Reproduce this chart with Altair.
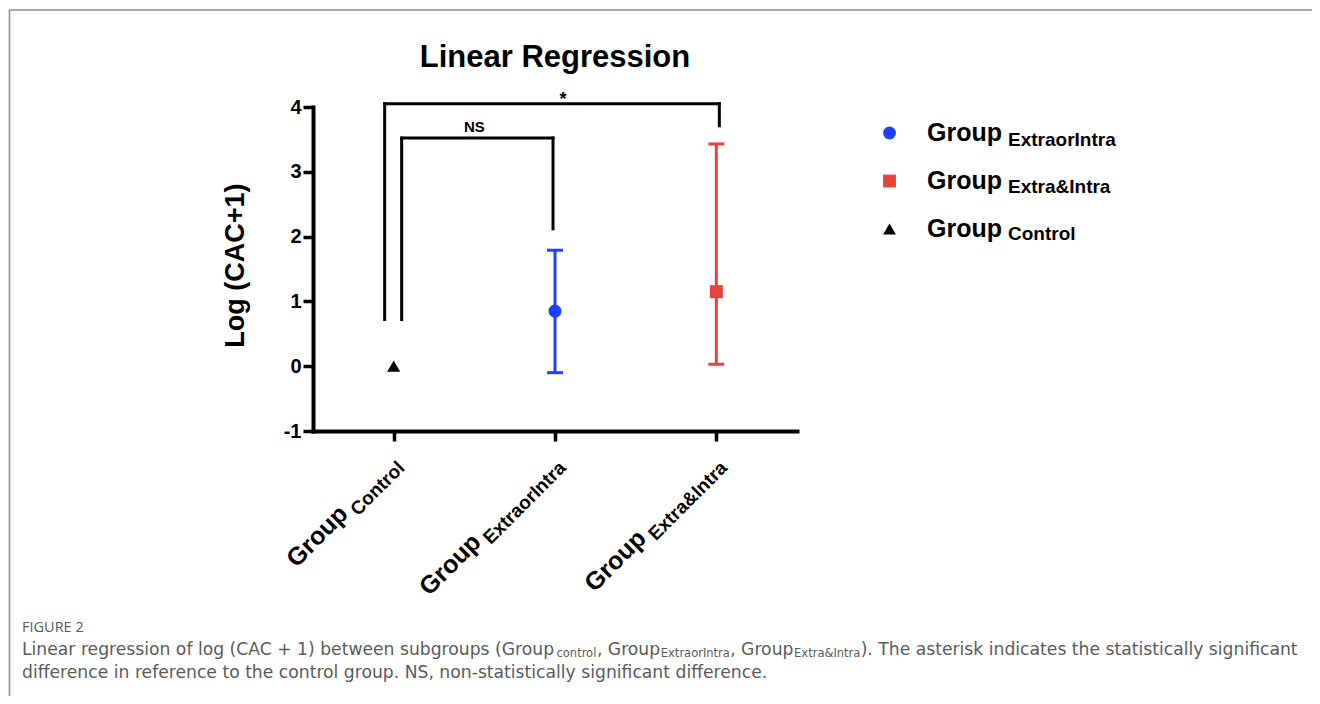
import altair as alt
import pandas as pd

# ---------------- data ----------------
groups = ["Control", "ExtraorIntra", "Extra&Intra"]
means = [0.0, 0.85, 1.15]
err_low = [None, -0.10, 0.03]
err_high = [None, 1.79, 3.43]

legend_order = ["ExtraorIntra", "Extra&Intra", "Control"]
legend_colors = ["#1f3fff", "#e8433a", "#000000"]
legend_shapes = ["circle", "square", "triangle-up"]

br_left = ["Control", "Control"]
br_right = ["ExtraorIntra", "Extra&Intra"]
br_top = [3.52, 4.05]
br_left_end = [0.72, 0.72]
br_right_end = [2.12, 3.71]
br_label = ["NS", "*"]

y_ticks = [-1, 0, 1, 2, 3, 4]

title_text = "Linear Regression"
y_title = "Log (CAC+1)"
label_main = "Group"
caption_head = "FIGURE 2"
caption_line1 = ["Linear regression of log (CAC + 1) between subgroups (Group", "control",
                 ", Group", "ExtraorIntra", ", Group", "Extra&Intra",
                 "). The asterisk indicates the statistically significant"]
caption_is_sub = [False, True, False, True, False, True, False]
caption_line2 = "difference in reference to the control group. NS, non-statistically significant difference."

# ---------------- styles ----------------
FONT = "Liberation Sans"
CAP_FONT = "DejaVu Sans"
W, H = 484, 324

ARIAL_BOLD = {"C": 722, "o": 611, "n": 611, "t": 333, "r": 389, "l": 278, "E": 667,
              "x": 556, "a": 556, "I": 278, "&": 722, "G": 778, "u": 611, "p": 611}

# DejaVu Sans advance widths (units per 2048 em) for laying out the caption segments
DEJAVU = {" ": 651, "(": 799, ")": 799, "+": 1716, ",": 651, ".": 651, "1": 1303,
          "A": 1401, "C": 1430, "E": 1294, "G": 1577, "I": 604, "L": 1141, "N": 1532,
          "S": 1300, "T": 1251, "&": 1597, "a": 1255, "b": 1300, "c": 1126, "d": 1300,
          "e": 1260, "f": 721, "g": 1300, "h": 1298, "i": 569, "k": 1186, "l": 569,
          "m": 1995, "n": 1298, "o": 1253, "p": 1300, "r": 842, "s": 1067, "t": 803,
          "u": 1298, "w": 1675, "x": 1212, "y": 1212, "-": 739}


def text_width(s, size):
    return sum(ARIAL_BOLD.get(c, 600) for c in s) / 1000 * size


def cap_width(s, size):
    return sum(DEJAVU.get(c, 1250) for c in s) / 2048 * size


gidx = {g: i for i, g in enumerate(groups)}
color_of = dict(zip(legend_order, legend_colors))
pts = pd.DataFrame({"group": groups, "idx": list(range(len(groups))), "mean": means,
                    "low": err_low, "high": err_high})
err = pts.dropna()

xs = alt.Scale(domain=[-0.5, 2.5], nice=False, zero=False)
ys = alt.Scale(domain=[-1, 4], nice=False, zero=False)
cscale = alt.Scale(domain=legend_order, range=legend_colors)
sscale = alt.Scale(domain=legend_order, range=legend_shapes)

x_axis = alt.Axis(values=[0, 1, 2], labels=False, title=None, grid=False, tickSize=10,
                  tickWidth=3.5, tickColor="black", domainColor="black", domainWidth=4,
                  domainCap="square")
y_axis = alt.Axis(values=y_ticks, labelExpr="'' + datum.value", title=y_title, grid=False,
                  tickSize=10, tickWidth=3.5, tickColor="black", domainColor="black",
                  domainWidth=4, domainCap="square", labelFontSize=20, labelFontWeight="bold",
                  labelColor="black", labelFont=FONT, labelPadding=2,
                  titleFontSize=27, titleFontWeight="bold", titleColor="black", titleFont=FONT,
                  titleAngle=270, titleX=-78, titleY=158, titleAlign="center",
                  titleBaseline="middle")

leg = alt.Legend(orient="none", legendX=564, legendY=13.5, title=None, labelExpr="'Group'",
                 labelFontSize=25, labelFontWeight="bold", labelColor="black", labelFont=FONT,
                 symbolSize=165, labelOffset=25, rowPadding=22, padding=0,
                 symbolStrokeWidth=0, symbolOpacity=1)


def X(f):
    return alt.X(f, scale=xs, axis=x_axis)


def Y(f):
    return alt.Y(f, scale=ys, axis=y_axis)


layers = []

# points (carry the axes and the legend)
layers.append(alt.Chart(pts).mark_point(filled=True, size=170, opacity=1).encode(
    x=X("idx:Q"), y=Y("mean:Q"),
    color=alt.Color("group:N", scale=cscale, legend=leg),
    shape=alt.Shape("group:N", scale=sscale, legend=leg),
))

# error bars, one layer per group with its own colour
for _, row in err.iterrows():
    d = pd.DataFrame([row])
    col = color_of[row["group"]]
    b = alt.Chart(d)
    layers.append(b.mark_rule(strokeWidth=3, color=col).encode(
        x=X("idx:Q"), y=Y("low:Q"), y2="high:Q"))
    for f in ["low", "high"]:
        layers.append(b.mark_tick(orient="horizontal", size=16, thickness=3, opacity=1,
                                  color=col).encode(x=X("idx:Q"), y=Y(f + ":Q")))

# significance brackets
BR_STYLE = {"NS": dict(ldx=8, rdx=-2, tdx=0, tdy=-6, size=15),
            "*": dict(ldx=-9, rdx=3, tdx=8, tdy=1.5, size=18)}
for i in range(len(br_label)):
    st = BR_STYLE[br_label[i]]
    d = pd.DataFrame({"l": [gidx[br_left[i]]], "r": [gidx[br_right[i]]], "top": [br_top[i]],
                      "lend": [br_left_end[i]], "rend": [br_right_end[i]], "label": [br_label[i]]})
    b = alt.Chart(d)
    rk = dict(strokeWidth=3, color="black", strokeCap="square")
    layers.append(b.mark_rule(xOffset=st["ldx"], x2Offset=st["rdx"], **rk).encode(
        x=X("l:Q"), x2="r:Q", y=Y("top:Q")))
    layers.append(b.mark_rule(xOffset=st["ldx"], **rk).encode(x=X("l:Q"), y=Y("top:Q"), y2="lend:Q"))
    layers.append(b.mark_rule(xOffset=st["rdx"], **rk).encode(x=X("r:Q"), y=Y("top:Q"), y2="rend:Q"))
    layers.append(b.transform_calculate(mid="(datum.l + datum.r) / 2").mark_text(
        dx=st["tdx"], dy=st["tdy"], fontSize=st["size"], fontWeight="bold", font=FONT,
        baseline="alphabetic", align="center", color="black").encode(
        x=X("mid:Q"), y=Y("top:Q"), text="label:N"))

# rotated category labels with subscripts
for i, g in enumerate(groups):
    d = pd.DataFrame({"idx": [i], "main": [label_main], "sub": [g]})
    b = alt.Chart(d)
    sw = text_width(g, 19)
    layers.append(b.mark_text(angle=315, align="right", baseline="alphabetic", fontSize=19,
                              fontWeight="bold", font=FONT, xOffset=12, color="black").encode(
        x=X("idx:Q"), y=alt.value(362), text="sub:N"))
    layers.append(b.mark_text(angle=315, align="right", baseline="alphabetic", fontSize=25,
                              fontWeight="bold", font=FONT, xOffset=12, dx=-(sw + 5), dy=-7,
                              color="black").encode(
        x=X("idx:Q"), y=alt.value(362), text="main:N"))

# legend subscripts
leg_sub_y = [39, 86, 133]
for g, yy in zip(legend_order, leg_sub_y):
    layers.append(alt.Chart(pd.DataFrame({"t": [g]})).mark_text(
        align="left", baseline="alphabetic", fontSize=19, fontWeight="bold", font=FONT,
        color="black").encode(x=alt.value(695), y=alt.value(yy), text="t:N"))

# title
layers.append(alt.Chart(pd.DataFrame({"t": [title_text]})).mark_text(
    align="center", baseline="alphabetic", fontSize=31, fontWeight="bold", font=FONT,
    color="black").encode(x=alt.value(W / 2), y=alt.value(-40), text="t:N"))

# frame
fr = alt.Chart(pd.DataFrame({"a": [0]}))
layers.append(fr.mark_rule(color="#8c8c8c", strokeWidth=1.6).encode(
    x=alt.value(-303.5), y=alt.value(-97), y2=alt.value(600)))
layers.append(fr.mark_rule(color="#8c8c8c", strokeWidth=1.6).encode(
    x=alt.value(-304), x2=alt.value(1000), y=alt.value(-97)))

# caption
CAP_LEFT = -291
CAP_MAIN = 17.2
CAP_SUB = 11.5
layers.append(alt.Chart(pd.DataFrame({"t": [caption_head]})).mark_text(
    align="left", baseline="alphabetic", fontSize=14.5, font="Open Sans", fontWeight=500,
    color="#5a5a5a").encode(x=alt.value(CAP_LEFT), y=alt.value(525), text="t:N"))
xx = CAP_LEFT
for seg, is_sub in zip(caption_line1, caption_is_sub):
    size = CAP_SUB if is_sub else CAP_MAIN
    layers.append(alt.Chart(pd.DataFrame({"t": [seg]})).mark_text(
        align="left", baseline="alphabetic", fontSize=size,
        font=CAP_FONT, color="#5a5a5a").encode(
        x=alt.value(xx), y=alt.value(550 if is_sub else 548), text="t:N"))
    xx += cap_width(seg, size) + 0.3
layers.append(alt.Chart(pd.DataFrame({"t": [caption_line2]})).mark_text(
    align="left", baseline="alphabetic", fontSize=CAP_MAIN, font=CAP_FONT,
    color="#5a5a5a").encode(x=alt.value(CAP_LEFT), y=alt.value(571), text="t:N"))

chart = alt.layer(*layers).properties(
    width=W, height=H,
    autosize=alt.AutoSizeParams(type="none"),
    padding={"left": 305, "top": 99, "right": 515, "bottom": 265},
).configure(font=FONT).configure_view(stroke=None)

chart.save("out.html", embed_options={"renderer": "svg", "actions": False})
